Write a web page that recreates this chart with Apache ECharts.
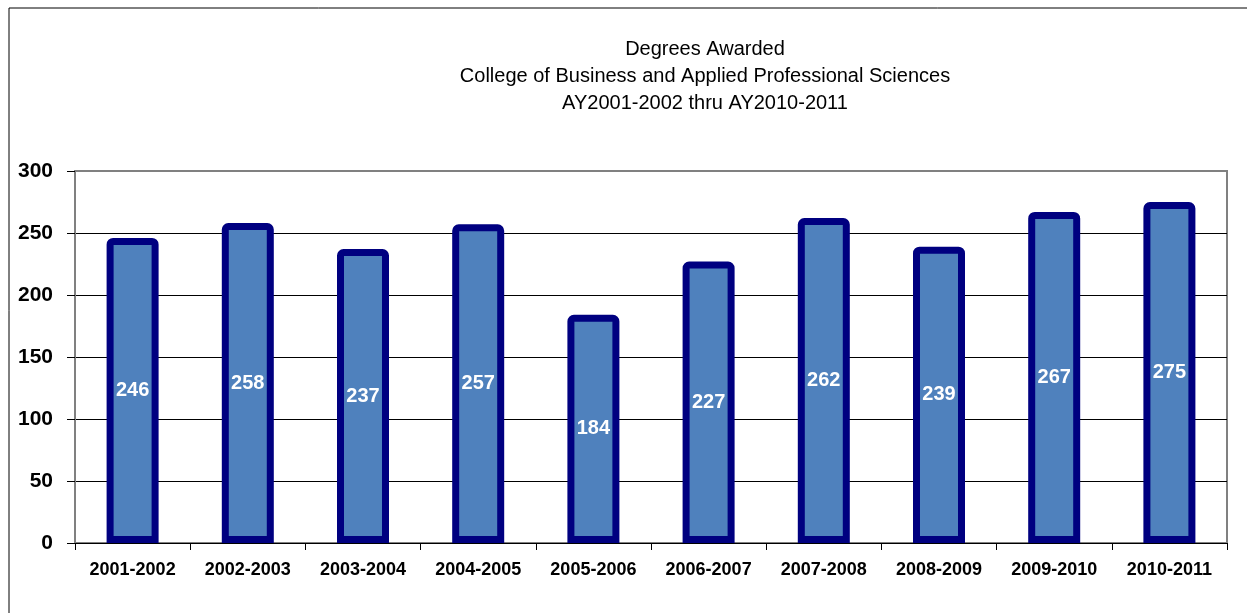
<!DOCTYPE html>
<html>
<head>
<meta charset="utf-8">
<script src="https://cdn.jsdelivr.net/npm/echarts@6/dist/echarts.min.js"></script>
<style>
  html, body { margin: 0; padding: 0; background: #fff; }
  #chart { width: 1247px; height: 613px; }
</style>
</head>
<body>
<div id="chart"></div>
<script>
// data
var years = ['2001-2002', '2002-2003', '2003-2004', '2004-2005', '2005-2006',
             '2006-2007', '2007-2008', '2008-2009', '2009-2010', '2010-2011'];
var degrees = [246, 258, 237, 257, 184, 227, 262, 239, 267, 275];
var titleLines = ['Degrees Awarded',
                  'College of Business and Applied Professional Sciences',
                  'AY2001-2002 thru AY2010-2011'];

var myChart = echarts.init(document.getElementById('chart'));

var option = {
    backgroundColor: '#fff',
    animation: false,
    title: {
        text: titleLines.join('\n'),
        left: 700,
        top: 31,
        textAlign: 'center',
        textStyle: {
            fontFamily: 'Liberation Sans',
            fontSize: 20,
            fontWeight: 'normal',
            color: '#000',
            lineHeight: 27
        }
    },
    grid: {
        left: 75,
        right: 20,
        top: 171,
        bottom: 70,
        show: true,
        borderColor: '#808080',
        borderWidth: 2,
        backgroundColor: '#fff'
    },
    // outer chart frame (left and top edges are visible)
    graphic: [
        {
            type: 'polyline',
            shape: { points: [[9, 613], [9, 8], [1247, 8]] },
            style: { stroke: '#000', lineWidth: 1, fill: null }
        }
    ],
    xAxis: {
        type: 'category',
        data: years,
        axisLine: { lineStyle: { color: '#000', width: 1 } },
        axisTick: { show: true, length: 7, lineStyle: { color: '#000' } },
        axisLabel: {
            fontFamily: 'Liberation Sans',
            fontSize: 18,
            fontWeight: 'bold',
            color: '#000',
            margin: 18
        }
    },
    yAxis: {
        type: 'value',
        min: 0,
        max: 300,
        interval: 50,
        axisLine: { show: true, lineStyle: { color: '#808080', width: 2 } },
        axisTick: { show: true, length: 8, lineStyle: { color: '#000' } },
        splitLine: { showMaxLine: false, lineStyle: { color: '#000', width: 1 } },
        axisLabel: {
            fontFamily: 'Liberation Sans',
            fontSize: 21,
            fontWeight: 'bold',
            color: '#000',
            margin: 22
        }
    },
    series: [
        {
            type: 'bar',
            data: degrees,
            barWidth: 52,
            itemStyle: {
                color: '#4F81BD',
                borderColor: '#000080',
                borderWidth: 7,
                borderRadius: [3, 3, 0, 0]
            },
            label: {
                show: true,
                position: 'inside',
                color: '#fff',
                fontFamily: 'Liberation Sans',
                fontSize: 20,
                fontWeight: 'bold',
                textBorderWidth: 0
            }
        }
    ]
};

myChart.setOption(option);
</script>
</body>
</html>
